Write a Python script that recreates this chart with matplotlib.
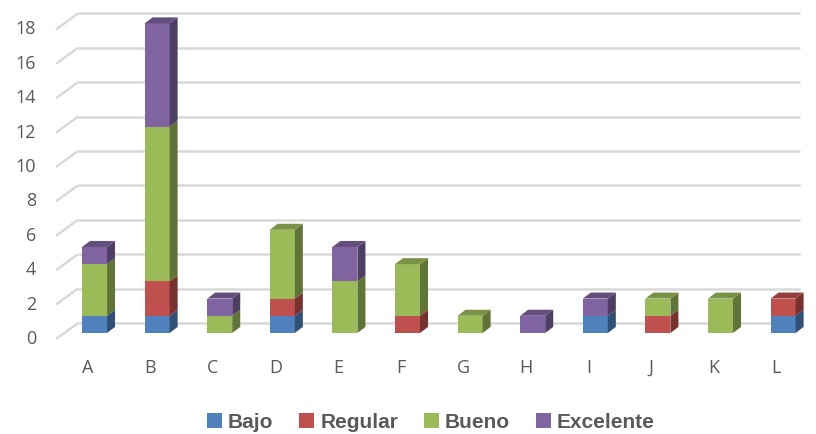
"""
Stacked 3D-style column chart (Bajo / Regular / Bueno / Excelente) per group A-L
"""

import matplotlib.pyplot as plt
from matplotlib.patches import Rectangle, Polygon
from matplotlib.colors import to_rgb
import numpy as np

categories = ['A', 'B', 'C', 'D', 'E', 'F', 'G', 'H', 'I', 'J', 'K', 'L']
bajo      = [1, 1, 0, 1, 0, 0, 0, 0, 1, 0, 0, 1]
regular   = [0, 2, 0, 1, 0, 1, 0, 0, 0, 1, 0, 1]
bueno     = [3, 9, 1, 4, 3, 3, 1, 0, 0, 1, 2, 0]
excelente = [1, 6, 1, 0, 2, 0, 0, 1, 1, 0, 0, 0]
series_names = ['Bajo', 'Regular', 'Bueno', 'Excelente']
yticks = [0, 2, 4, 6, 8, 10, 12, 14, 16, 18]

colors = ['#4F81BD', '#C0504D', '#9BBB59', '#8064A2']
series = [bajo, regular, bueno, excelente]

w = 0.40      # bar width (category units)
dx = 0.128    # depth offset x
dy = 0.35     # depth offset y
txt = '#595959'

def shade(c, f):
    r, g, b = to_rgb(c)
    return (r*f, g*f, b*f)

fig = plt.figure(figsize=(8.16, 4.34), dpi=100)
ax = fig.add_axes([50/816, 1-345/434, 755/816, 340/434])
ax.set_xlim(-0.711, 11.35)
ax.set_ylim(-0.70, 19.07)
ax.axis('off')

# back wall gridlines + floor/side diagonals
for v in yticks:
    ax.plot([-0.615, -0.264], [v-0.35, v+0.58], color='#d9d9d9', lw=1.8, zorder=1, solid_capstyle='butt')
    ax.plot([-0.264, 11.27], [v+0.58, v+0.58], color='#d9d9d9', lw=1.8, zorder=1, solid_capstyle='butt')
    ax.text(-0.935, v-0.35, str(v), ha='right', va='center', fontsize=13, color=txt,
            family='Open Sans', clip_on=False)

x = np.arange(len(categories))
for i in x:
    base = 0
    vals = [s[i] for s in series]
    top_k = max([k for k in range(4) if vals[k] > 0])
    for k in range(4):
        h = vals[k]
        if h == 0:
            continue
        c = colors[k]
        ax.add_patch(Rectangle((i-w/2, base), w, h, facecolor=c, edgecolor='none', zorder=3))
        ax.add_patch(Polygon([(i+w/2, base), (i+w/2+dx, base+dy), (i+w/2+dx, base+h+dy), (i+w/2, base+h)],
                             closed=True, facecolor=shade(c, 0.62), edgecolor='none', zorder=3))
        if k == top_k:
            ax.add_patch(Polygon([(i-w/2, base+h), (i+w/2, base+h), (i+w/2+dx, base+h+dy), (i-w/2+dx, base+h+dy)],
                                 closed=True, facecolor=shade(c, 0.78), edgecolor='none', zorder=3))
        base += h
    # category labels sit on the front floor edge, a bit left of the bar centre
    ax.text(i-0.11, -2.03, categories[i], ha='center', va='center', fontsize=13, color=txt,
            family='Open Sans', clip_on=False)

# legend
handles = [Rectangle((0, 0), 1, 1, facecolor=c, edgecolor='none') for c in colors]
fig.legend(handles, series_names, loc='center', bbox_to_anchor=(431/816, 1-422/434), ncol=4,
           frameon=False, handlelength=0.7, handleheight=0.7, handletextpad=0.3, columnspacing=1.25,
           prop={'family': 'Liberation Sans', 'weight': 'bold', 'size': 15}, labelcolor=txt)

plt.savefig('out.png', dpi=100)
